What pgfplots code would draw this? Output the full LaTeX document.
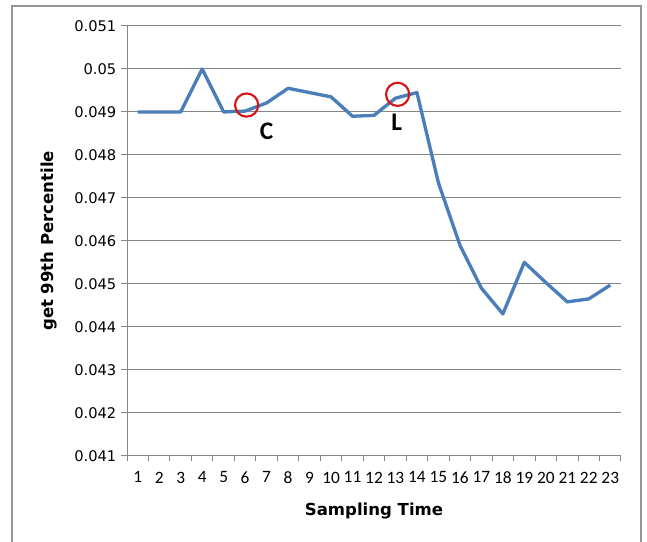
\documentclass[border=0pt]{standalone}
\usepackage{fontspec}
\setmainfont{Carlito}
\newfontfamily\dejavu{DejaVu Sans}
\usepackage{pgfplots}
\pgfplotsset{compat=1.18}
\usetikzlibrary{calc}
\definecolor{xlblue}{RGB}{74,126,187}
\definecolor{xlgrid}{RGB}{134,134,134}
\definecolor{xlred}{RGB}{215,20,20}
\definecolor{xlframe}{RGB}{150,150,150}
\begin{document}
\begin{tikzpicture}
\useasboundingbox (0,0) rectangle (485.25pt,406.5pt);
\draw[xlframe, line width=0.8pt] (9pt,-5pt) rectangle (480.75pt,402pt);
\begin{axis}[
  at={(95.25pt,64.7pt)}, anchor=south west,
  scale only axis, width=370.5pt, height=322.3pt,
  xmin=0.5, xmax=23.5, ymin=0.041, ymax=0.051,
  /pgf/number format/assume math mode=true,
  axis x line*=bottom, axis y line*=left,
  axis line style={xlgrid, line width=0.75pt, -},
  xtick={1,...,23},
  major x tick style={draw=none},
  minor xtick={0.5,1.5,...,23.5},
  minor x tick style={xlgrid, line width=0.75pt},
  minor tick length=4pt,
  major tick length=4.5pt,
  tick align=outside,
  ytick={0.041,0.042,0.043,0.044,0.045,0.046,0.047,0.048,0.049,0.050,0.051},
  yticklabels={0.041,0.042,0.043,0.044,0.045,0.046,0.047,0.048,0.049,0.05,0.051},
  ytick style={xlgrid, line width=0.75pt},
  ymajorgrids, grid style={xlgrid, line width=0.75pt},
  scaled y ticks=false,
  yticklabel style={font=\dejavu\fontsize{11}{13}\selectfont},
  xticklabel style={font=\fontsize{13}{15}\selectfont, yshift=-4pt},
  xlabel={Sampling Time}, ylabel={get 99th Percentile},
  label style={font=\dejavu\bfseries\fontsize{12.4}{14}\selectfont},
  xlabel style={at={(axis description cs:0.5,0)}, anchor=base, yshift=-44.5pt},
  ylabel style={at={($(axis description cs:0,0.5)+(-55.1pt,0)$)}, anchor=base},
]
\addplot[xlblue, line width=2.5pt, line join=round] coordinates {
(1,0.0490) (2,0.0490) (3,0.0490) (4,0.0500) (5,0.0490) (6,0.04902)
(7,0.04921) (8,0.04955) (9,0.04945) (10,0.04935) (11,0.04890) (12,0.04892)
(13,0.04932) (14,0.04945) (15,0.04735) (16,0.04590) (17,0.04490) (18,0.04430)
(19,0.04550) (20,0.04503) (21,0.04458) (22,0.04465) (23,0.04497)
};
\addplot[only marks, mark=o, mark size=8.7pt, xlred, mark options={line width=1.6pt}] coordinates {
(6.07,0.04916) (13.1,0.04941)
};
\node[font=\bfseries\fontsize{19}{21}\selectfont] at (axis cs:7.0,0.04854) {C};
\node[font=\bfseries\fontsize{19}{21}\selectfont] at (axis cs:13.06,0.04877) {L};
\end{axis}
\end{tikzpicture}
\end{document}
